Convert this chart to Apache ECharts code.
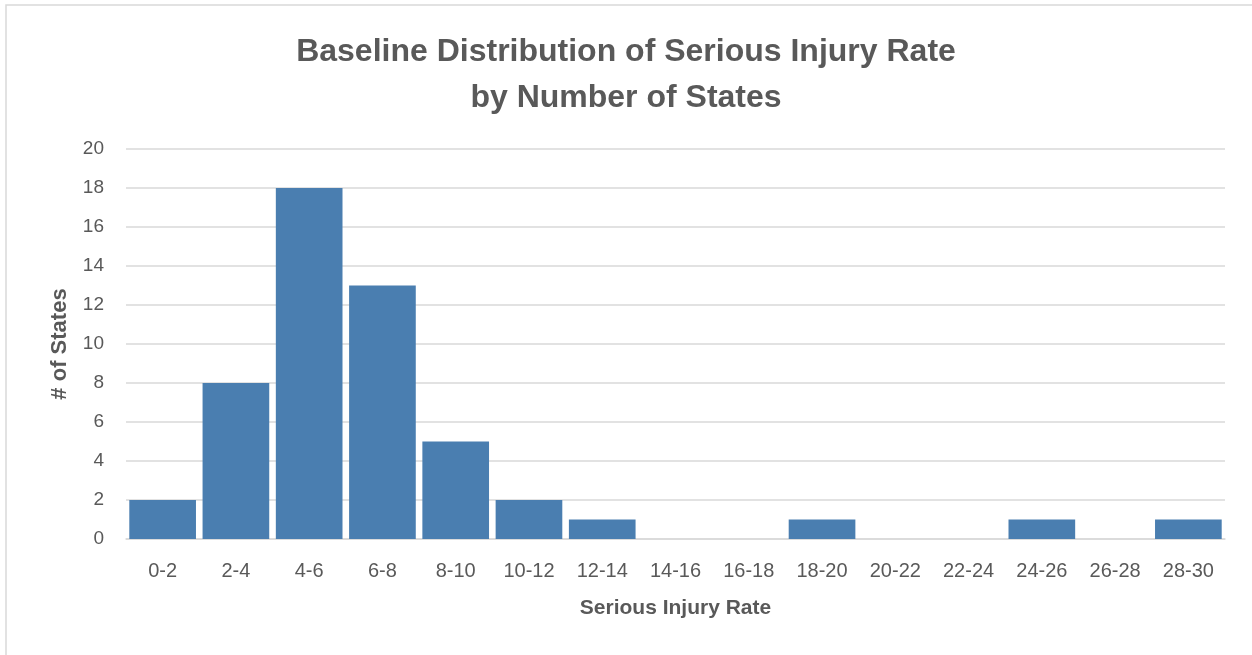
<!DOCTYPE html>
<html>
<head>
<meta charset="utf-8">
<script src="https://cdn.jsdelivr.net/npm/echarts@6/dist/echarts.min.js"></script>
<style>
  html, body { margin: 0; padding: 0; background: #fff; }
  #chart { width: 1252px; height: 655px; }
</style>
</head>
<body>
<div id="chart"></div>
<script>
// Serious injury rate bins and the number of states in each
const rateBins = ['0-2', '2-4', '4-6', '6-8', '8-10', '10-12', '12-14', '14-16',
                  '16-18', '18-20', '20-22', '22-24', '24-26', '26-28', '28-30'];
const stateCounts = [2, 8, 18, 13, 5, 2, 1, 0, 0, 1, 0, 0, 1, 0, 1];
const yTicks = { min: 0, max: 20, step: 2 };

const textColor = '#595959';
const fontFamily = 'Liberation Sans, Arial, sans-serif';

const chart = echarts.init(document.getElementById('chart'), null, { renderer: 'canvas' });
chart.setOption({
  backgroundColor: '#ffffff',
  animation: false,
  graphic: [{
    type: 'rect',
    shape: { x: 6, y: 5, width: 1300, height: 700 },
    style: { fill: 'none', stroke: '#d9d9d9', lineWidth: 1.5 },
    silent: true
  }],
  title: {
    text: 'Baseline Distribution of Serious Injury Rate\nby Number of States',
    left: 'center',
    top: 24,
    textStyle: {
      color: textColor,
      fontFamily: fontFamily,
      fontWeight: 'bold',
      fontSize: 32,
      lineHeight: 46
    }
  },
  grid: { left: 126, right: 27, top: 149, bottom: 116 },
  xAxis: {
    type: 'category',
    data: rateBins,
    name: 'Serious Injury Rate',
    nameLocation: 'middle',
    nameGap: 59,
    nameTextStyle: { color: textColor, fontFamily: fontFamily, fontWeight: 'bold', fontSize: 21 },
    axisLine: { lineStyle: { color: '#d9d9d9', width: 1.5 } },
    axisTick: { show: false },
    axisLabel: { color: textColor, fontFamily: fontFamily, fontSize: 20, margin: 22 }
  },
  yAxis: {
    type: 'value',
    min: yTicks.min,
    max: yTicks.max,
    interval: yTicks.step,
    name: '# of States',
    nameLocation: 'middle',
    nameGap: 55,
    nameRotate: 90,
    nameTextStyle: { color: textColor, fontFamily: fontFamily, fontWeight: 'bold', fontSize: 22 },
    axisLine: { show: false },
    axisTick: { show: false },
    axisLabel: { color: textColor, fontFamily: fontFamily, fontSize: 19, margin: 22 },
    splitLine: { lineStyle: { color: '#d9d9d9', width: 1.5 } }
  },
  series: [{
    type: 'bar',
    data: stateCounts,
    barCategoryGap: '9%',
    itemStyle: { color: '#4a7eb0' }
  }]
});
</script>
</body>
</html>
